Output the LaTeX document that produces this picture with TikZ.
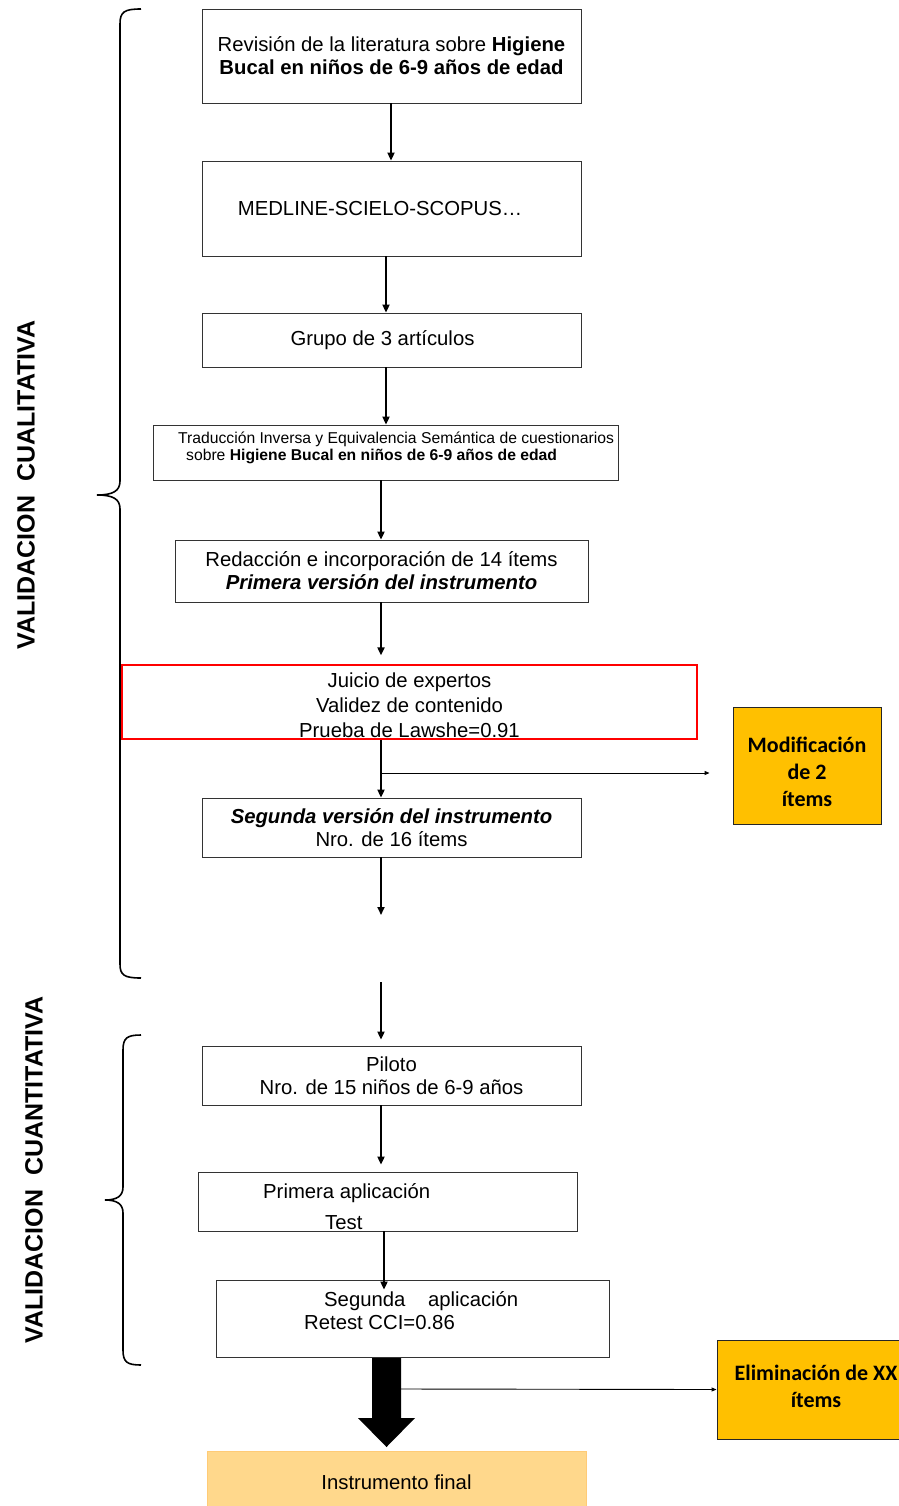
\documentclass[tikz,border=0pt]{standalone}
\usepackage{fontspec}
\setmainfont{Liberation Sans}
\newfontfamily\calibfont{Carlito}
\usetikzlibrary{arrows.meta,positioning}

\definecolor{ambar}{HTML}{FFC000}
\definecolor{crema}{HTML}{FFD88C}

\newcommand{\boxfs}{\fontsize{20.3}{23}\selectfont}
\newcommand{\smallfs}{\fontsize{15.7}{17}\selectfont}
\newcommand{\rojofs}{\fontsize{20.3}{25}\selectfont}
\newcommand{\obfs}{\calibfont\bfseries\fontsize{22}{27}\selectfont}
\newcommand{\vlabfs}{\bfseries\fontsize{25}{28}\selectfont}

\begin{document}
\begin{tikzpicture}[
	x=1pt,y=-1pt,
	fbox/.style={draw=black!80,line width=0.8pt,inner sep=0pt,align=center,font=\boxfs},
	obox/.style={draw=black!85,line width=0.9pt,fill=ambar,inner sep=0pt},
	flecha/.style={line width=1.8pt,-{Triangle[length=8pt,width=7pt]}},
	fina/.style={line width=0.9pt,-{Triangle[length=5pt,width=4pt]}},
	llave/.style={line width=1.6pt},
	vlabel/.style={rotate=90,inner sep=0pt,font=\vlabfs}
	]
	\useasboundingbox (0,0) rectangle (898,1506);

	% etapa cualitativa
	\node[fbox,minimum width=379pt,minimum height=94pt] (rev) at (391.5,56) {Revisión de la literatura sobre \textbf{Higiene}\\\textbf{Bucal en niños de 6-9 años de edad}};
	\node[fbox,minimum width=379pt,minimum height=95pt] (med) at (391.5,208.5) {\hspace*{-23pt}MEDLINE-SCIELO-SCOPUS…};
	\node[fbox,minimum width=379pt,minimum height=54pt] (grp) at (391.5,340) {\hspace*{-18pt}Grupo de 3 artículos};
	\node[fbox,minimum width=465pt,minimum height=55pt] (trad) at (385.5,452.5) {};
	\node[anchor=west,align=left,inner sep=0pt,font=\smallfs] (tradtxt) at (178,447.5) {Traducción Inversa y Equivalencia Semántica de cuestionarios\\\hspace*{8pt}sobre \textbf{Higiene Bucal en niños de 6-9 años de edad}};
	\node[fbox,minimum width=413pt,minimum height=62pt] (red) at (381.5,571) {Redacción e incorporación de 14 ítems\\\textbf{\textit{Primera versión del instrumento}}};
	\node[fbox,draw=red,line width=1.2pt,minimum width=575pt,minimum height=74pt] (jui) at (409.5,702) {};
	\node[align=center,inner sep=0pt,font=\rojofs] (juitxt) at (409.5,705) {Juicio de expertos\\Validez de contenido\\Prueba de Lawshe=0.91};
	\node[fbox,minimum width=379pt,minimum height=59pt] (seg) at (391.5,827.5) {\textbf{\textit{Segunda versión del instrumento}}\\Nro. de 16 ítems};
	\node[obox,minimum width=148pt,minimum height=117pt] (mod) at (807,765.5) {};
	\node[align=center,inner sep=0pt,font=\obfs] (modtxt) at (807,772) {Modificación\\de 2\\ítems};

	% etapa cuantitativa
	\node[fbox,minimum width=379pt,minimum height=59pt] (pil) at (391.5,1075.5) {Piloto\\Nro. de 15 niños de 6-9 años};
	\node[fbox,minimum width=379pt,minimum height=59pt] (pap) at (387.5,1201.5) {};
	\node[anchor=west,align=left,inner sep=0pt,font=\fontsize{20.3}{31}\selectfont] (paptxt) at (263,1206.5) {Primera aplicación\\\hspace*{62pt}Test};
	\node[fbox,minimum width=393pt,minimum height=77pt] (sap) at (412.5,1318.5) {};
	\node[anchor=west,align=left,inner sep=0pt,font=\boxfs] (saptxt) at (304,1311) {\hspace*{20pt}Segunda\ \ \ \ aplicación\\Retest CCI=0.86};
	\node[obox,minimum width=198pt,minimum height=99pt] (eli) at (816,1389.5) {};
	\node[align=center,inner sep=0pt,font=\obfs] (elitxt) at (816,1386.5) {Eliminación de XX\\ítems};
	\node[fbox,draw=crema!85!orange,fill=crema,minimum width=379pt,minimum height=62pt] (fin) at (396.5,1482) {Instrumento final};

	% conectores
	\draw[flecha] ([xshift=-0.5pt]rev.south) -- ([xshift=-0.5pt]med.north);
	\draw[flecha] ([xshift=-5.5pt]med.south) -- ([xshift=-5.5pt]grp.north);
	\draw[flecha] ([xshift=0.5pt]trad.north |- grp.south) -- ([xshift=0.5pt]trad.north);
	\draw[flecha] ([xshift=-0.5pt]red.north |- trad.south) -- ([xshift=-0.5pt]red.north);
	\draw[flecha,shorten >=9pt] ([xshift=-0.5pt]red.south) -- ([xshift=-0.5pt]red.south |- jui.north);
	\draw[flecha] ([xshift=-0.5pt]red.south |- jui.south) -- ([xshift=-0.5pt]red.south |- seg.north);
	\coordinate (rama) at (381,773);
	\draw[fina,shorten >=23pt] (rama) -- (rama -| mod.west);
	\coordinate (c1) at (381,915);
	\coordinate (c2) at (381,982);
	\draw[flecha] (seg.south -| c1) -- (c1);
	\draw[flecha,shorten >=6pt] (c2) -- (c2 |- pil.north);
	\draw[flecha,shorten >=7pt] (c2 |- pil.south) -- (c2 |- pap.north);
	\draw[flecha,shorten >=-10pt] ([xshift=-3.5pt]pap.south) -- ([xshift=-3.5pt]pap.south |- sap.north);

	% flecha gruesa
	\fill (372,1358) -- (401,1358) -- (401,1418) -- (415,1418) -- (386.5,1447) -- (358,1418) -- (372,1418) -- cycle;
	\coordinate (bkr) at (401,1389);
	\draw[fina] (bkr) -- (eli.west);

	% llaves
	\draw[llave] (141,9) .. controls (124,9) and (120,12) .. (120,24) -- (120,481)
		.. controls (120,491) and (113,495) .. (97,495)
		.. controls (113,495) and (120,499) .. (120,509) -- (120,964)
		.. controls (120,975) and (124,978) .. (141,978);
	\draw[llave] (141,1035) .. controls (127,1035) and (123,1038) .. (123,1050) -- (123,1187)
		.. controls (123,1196) and (117,1200) .. (105,1200)
		.. controls (117,1200) and (123,1204) .. (123,1213) -- (123,1350)
		.. controls (123,1362) and (127,1365) .. (141,1365);
	\node[vlabel] (cual) at (26,485) {VALIDACION\ \ CUALITATIVA};
	\node[vlabel] (cuan) at (34,1170) {VALIDACION\ \ CUANTITATIVA};
\end{tikzpicture}
\end{document}
